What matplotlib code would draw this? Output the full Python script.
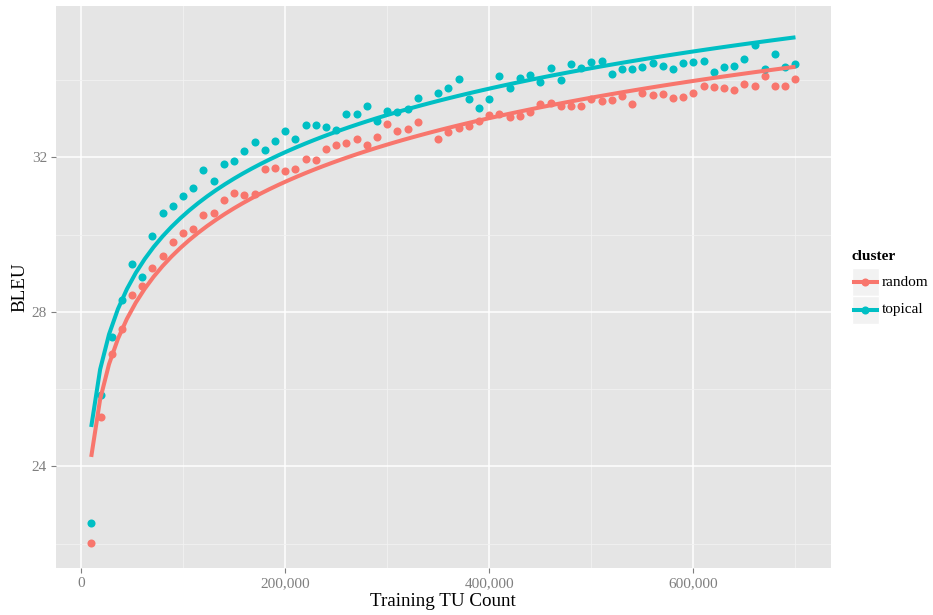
import numpy as np
import matplotlib
matplotlib.use("Agg")
import matplotlib.pyplot as plt
from matplotlib.lines import Line2D
from matplotlib.patches import Rectangle
from matplotlib.ticker import FuncFormatter, FixedLocator

plt.rcParams['font.family'] = ['Liberation Serif', 'DejaVu Serif']

# training set sizes (no run at 340,000)
tu_count = [
    10000, 20000, 30000, 40000, 50000, 60000, 70000, 80000, 90000, 100000,
    110000, 120000, 130000, 140000, 150000, 160000, 170000, 180000, 190000, 200000,
    210000, 220000, 230000, 240000, 250000, 260000, 270000, 280000, 290000, 300000,
    310000, 320000, 330000, 350000, 360000, 370000, 380000, 390000, 400000,
    410000, 420000, 430000, 440000, 450000, 460000, 470000, 480000, 490000, 500000,
    510000, 520000, 530000, 540000, 550000, 560000, 570000, 580000, 590000, 600000,
    610000, 620000, 630000, 640000, 650000, 660000, 670000, 680000, 690000, 700000,
]

bleu_random = [
    22.02, 25.27, 26.91, 27.57, 28.45, 28.66, 29.14, 29.45, 29.81, 30.05,
    30.14, 30.50, 30.55, 30.90, 31.08, 31.02, 31.06, 31.71, 31.73, 31.64,
    31.71, 31.96, 31.93, 32.21, 32.32, 32.37, 32.49, 32.32, 32.52, 32.86,
    32.68, 32.73, 32.91, 32.47, 32.67, 32.75, 32.81, 32.94, 33.09,
    33.12, 33.04, 33.07, 33.17, 33.38, 33.42, 33.32, 33.34, 33.34, 33.50,
    33.46, 33.48, 33.58, 33.38, 33.66, 33.61, 33.64, 33.53, 33.57, 33.68,
    33.84, 33.83, 33.79, 33.74, 33.90, 33.86, 34.12, 33.85, 33.86, 34.02,
]

bleu_topical = [
    22.55, 25.84, 27.35, 28.32, 29.25, 28.91, 29.97, 30.55, 30.73, 31.01,
    31.22, 31.67, 31.39, 31.84, 31.91, 32.17, 32.41, 32.19, 32.42, 32.69,
    32.47, 32.83, 32.83, 32.80, 32.71, 33.13, 33.13, 33.34, 32.94, 33.19,
    33.17, 33.25, 33.53, 33.68, 33.79, 34.03, 33.51, 33.29, 33.50,
    34.11, 33.81, 34.05, 34.13, 33.96, 34.31, 34.01, 34.43, 34.31, 34.47,
    34.49, 34.16, 34.30, 34.28, 34.33, 34.44, 34.37, 34.30, 34.44, 34.48,
    34.49, 34.21, 34.35, 34.37, 34.55, 34.91, 34.29, 34.69, 34.35, 34.42,
]

clusters = ['random', 'topical']
series = {'random': bleu_random, 'topical': bleu_topical}
colours = {'random': '#F8766D', 'topical': '#00BFC4'}

W, H = 933, 615
fig = plt.figure(figsize=(W / 100, H / 100), dpi=100)
ax = fig.add_axes([56 / W, 1 - 567.7 / H, (830.7 - 56) / W, (567.7 - 6) / H])
ax.set_facecolor('#E5E5E5')
for s in ax.spines.values():
    s.set_visible(False)

x = np.array(tu_count, dtype=float)
x_fit = np.linspace(x.min(), x.max(), 80)

for name in clusters:
    y = np.array(series[name])
    ax.plot(x, y, 'o', ms=5.8, color=colours[name], mec='none', zorder=3)
    # lm(y ~ log(x)) smoother
    b, a = np.polyfit(np.log(x), y, 1)
    ax.plot(x_fit, a + b * np.log(x_fit), color=colours[name], lw=2.9,
            solid_capstyle='butt', zorder=4)

ax.set_xlim(-24500, 734500)
ax.set_ylim(21.38, 35.92)

ax.xaxis.set_major_locator(FixedLocator([0, 200000, 400000, 600000]))
ax.xaxis.set_minor_locator(FixedLocator([100000, 300000, 500000, 700000]))
ax.yaxis.set_major_locator(FixedLocator([24, 28, 32]))
ax.yaxis.set_minor_locator(FixedLocator([22, 26, 30, 34]))
ax.xaxis.set_major_formatter(FuncFormatter(lambda v, p: f"{int(v):,}"))

ax.grid(which='major', color='white', lw=1.1, zorder=0)
ax.grid(which='minor', color='#F2F2F2', lw=0.6, zorder=0)
ax.set_axisbelow(True)
ax.tick_params(which='major', length=3.5, width=0.8, color='#7F7F7F',
               labelcolor='#7F7F7F', labelsize=11, pad=3)
ax.tick_params(which='minor', length=0)

fig.text(443 / W, 1 - 601 / H, 'Training TU Count', ha='center', va='center',
         fontsize=13.7)
fig.text(20 / W, 1 - 287 / H, 'BLEU', ha='center', va='center',
         rotation=90, fontsize=13.7)

# legend
fig.text(851 / W, 1 - 256 / H, 'cluster', ha='left', va='center',
         fontsize=11, fontweight='bold')
key_top = 268.3
key_h = 27.7
for i, name in enumerate(clusters):
    top = key_top + i * key_h
    fig.add_artist(Rectangle((851.7 / W, 1 - (top + key_h) / H), 27 / W, key_h / H,
                             transform=fig.transFigure, facecolor='#F2F2F2',
                             edgecolor='white', lw=1))
    yc = 1 - (top + key_h / 2) / H
    fig.add_artist(Line2D([853.5 / W, 877 / W], [yc, yc], transform=fig.transFigure,
                          color=colours[name], lw=2.9))
    fig.add_artist(Line2D([865.2 / W], [yc], transform=fig.transFigure, marker='o',
                          ms=5.8, mec='none', color=colours[name]))
    fig.text(882 / W, yc, name, ha='left', va='center', fontsize=11)

fig.savefig('out.png', dpi=100)
